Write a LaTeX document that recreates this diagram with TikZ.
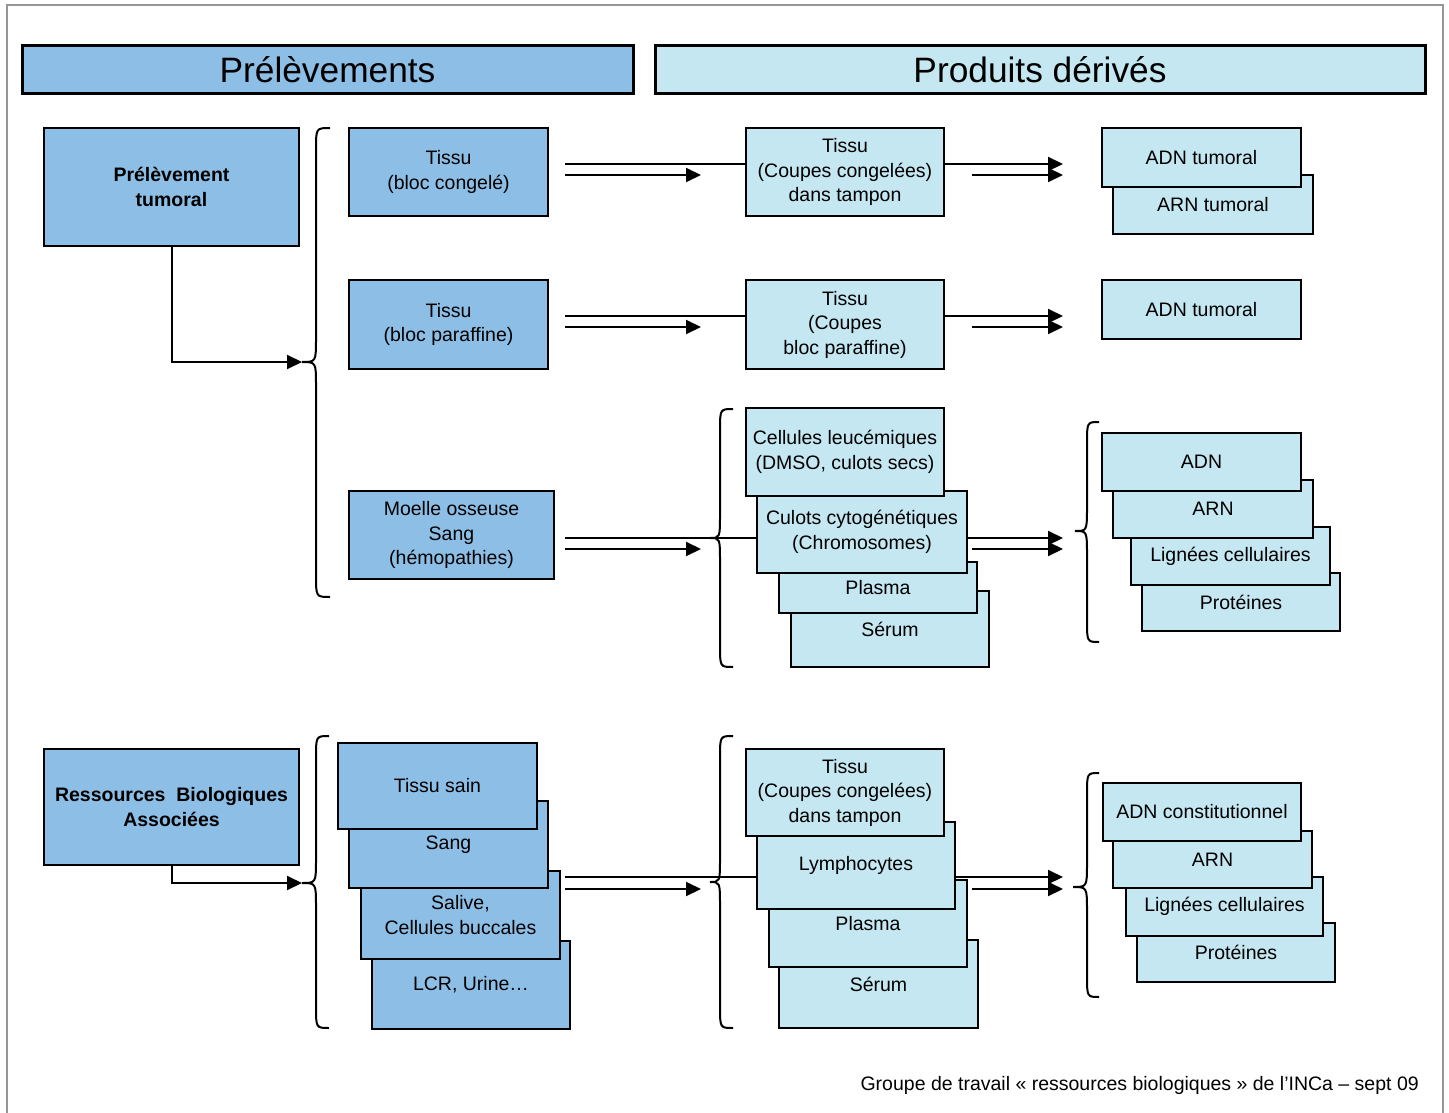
\documentclass[tikz,border=0pt]{standalone}
\usepackage{fontspec}
\setmainfont{Liberation Sans}
\usetikzlibrary{arrows.meta}
\definecolor{dblue}{RGB}{141,191,230}
\definecolor{lblue}{RGB}{196,231,241}
\definecolor{framegray}{RGB}{150,150,150}
\newcommand\bracepath[6]{% xmid xend xtip ytop ytip ybot
  \draw[brace] (#2,#4) .. controls (#1,#4) .. (#1,{#4+22}) -- (#1,{#5-24})
    .. controls (#1,#5) .. (#3,#5) .. controls (#1,#5) .. (#1,{#5+24})
    -- (#1,{#6-22}) .. controls (#1,#6) .. (#2,#6);}
\begin{document}
\begin{tikzpicture}[x=1pt,y=-1pt,
  base/.style={draw=black, line width=2.5pt, inner sep=0pt, align=center,
    font=\fontsize{19.5}{24.5}\selectfont},
  dbox/.style={base, fill=dblue},
  lbox/.style={base, fill=lblue},
  hdr/.style={draw=black, line width=3pt, inner sep=0pt,
    font=\fontsize{35.3}{40}\selectfont},
  conn/.style={line width=2pt},
  arr/.style={conn, -{Triangle[length=15pt,width=14pt]}},
  brace/.style={line width=2pt},
]
\useasboundingbox (0,0) rectangle (1449,1113);
\draw[framegray, line width=2pt] (7,1113) -- (7,5) -- (1443,5) -- (1443,1113);

% headers
\node[hdr, fill=dblue, minimum width=611pt, minimum height=48pt] (h1) at (327.5,70) {Prélèvements};
\node[hdr, fill=lblue, minimum width=770pt, minimum height=48pt] (h2) at (1040,70) {Produits dérivés};

% left boxes
\node[dbox, minimum width=255pt, minimum height=118pt, font=\fontsize{19.5}{24.5}\selectfont\bfseries] (PT) at (171.5,187) {Prélèvement\\tumoral};
\node[dbox, minimum width=255pt, minimum height=116pt, font=\fontsize{19.5}{24.5}\selectfont\bfseries] (RBA) at (171.5,807) {Ressources\ \ Biologiques\\Associées};

% column 2
\node[dbox, minimum width=199pt, minimum height=88pt] (T1) at (448.5,172) {Tissu\\(bloc congelé)};
\node[dbox, minimum width=199pt, minimum height=89pt] (T2) at (448.5,324.5) {Tissu\\(bloc paraffine)};
\node[dbox, minimum width=205pt, minimum height=88pt] (T3) at (451.5,535) {Moelle osseuse\\Sang\\(hémopathies)};

% column 3
\node[lbox, minimum width=198pt, minimum height=88pt] (C1) at (845,172) {Tissu\\(Coupes congelées)\\dans tampon};
\node[lbox, minimum width=198pt, minimum height=89pt] (C2) at (845,324.5) {Tissu\\(Coupes\\bloc paraffine)};
\node[lbox, minimum width=198pt, minimum height=76pt] (C3d) at (890,629) {Sérum};
\node[lbox, minimum width=198pt, minimum height=51pt] (C3c) at (878,587.5) {Plasma};
\node[lbox, minimum width=210pt, minimum height=82pt] (C3b) at (862,532) {Culots cytogénétiques\\(Chromosomes)};
\node[lbox, minimum width=198pt, minimum height=88pt] (C3a) at (845,452) {Cellules leucémiques\\(DMSO, culots secs)};

% column 4
\node[lbox, minimum width=200pt, minimum height=59pt] (D1b) at (1213,204.5) {ARN tumoral};
\node[lbox, minimum width=199pt, minimum height=59pt] (D1a) at (1201.5,157.5) {ADN tumoral};
\node[lbox, minimum width=199pt, minimum height=59pt] (D2) at (1201.5,309.5) {ADN tumoral};
\node[lbox, minimum width=198pt, minimum height=58pt] (D3d) at (1241,602) {Protéines};
\node[lbox, minimum width=199pt, minimum height=58pt] (D3c) at (1230.5,556) {Lignées cellulaires};
\node[lbox, minimum width=200pt, minimum height=58pt] (D3b) at (1213,509) {ARN};
\node[lbox, minimum width=199pt, minimum height=58pt] (D3a) at (1201.5,462) {ADN};

% lower column 2
\node[dbox, minimum width=198pt, minimum height=88pt] (L4) at (471,985) {LCR, Urine…};
\node[dbox, minimum width=199pt, minimum height=88pt] (L3) at (460.5,915) {Salive,\\Cellules buccales};
\node[dbox, minimum width=199pt, minimum height=87pt] (L2) at (448.5,844.5) {Sang};
\node[dbox, minimum width=199pt, minimum height=86pt] (L1) at (437.5,786) {Tissu sain};

% lower column 3
\node[lbox, minimum width=199pt, minimum height=88pt] (M4) at (878.5,984) {Sérum};
\node[lbox, minimum width=198pt, minimum height=87pt] (M3) at (868,923.5) {Plasma};
\node[lbox, minimum width=198pt, minimum height=87pt] (M2) at (856,865.5) {Lymphocytes};
\node[lbox, minimum width=198pt, minimum height=87pt] (M1) at (845,792.5) {Tissu\\(Coupes congelées)\\dans tampon};

% lower column 4
\node[lbox, minimum width=198pt, minimum height=59pt] (N4) at (1236,952.5) {Protéines};
\node[lbox, minimum width=197pt, minimum height=59pt] (N3) at (1224.5,906.5) {Lignées cellulaires};
\node[lbox, minimum width=199pt, minimum height=57pt] (N2) at (1212.5,859.5) {ARN};
\node[lbox, minimum width=198pt, minimum height=58pt] (N1) at (1202,812) {ADN constitutionnel};

% braces
\coordinate (b1) at (302,362);
\coordinate (b4) at (302,883);
\bracepath{316}{330}{302}{128}{362}{597}
\bracepath{720}{733}{710}{409}{538}{667}
\bracepath{1087}{1099}{1075}{422}{531}{642}
\bracepath{316}{329}{302}{736}{883}{1028}
\bracepath{720}{733}{710}{736}{882}{1028}
\bracepath{1087}{1099}{1073}{773}{887}{997}

% elbow arrows
\draw[arr] (PT.south) |- (b1);
\draw[arr] (RBA.south) |- (b4);

% double arrows
\foreach \yu/\yl/\n in {164/175/C1, 316/327/C2, 538/549/C3b, 877/889/M2} {
  \coordinate (lu) at (565,\yu);
  \coordinate (ll) at (565,\yl);
  \coordinate (le) at (701,\yl);
  \draw[conn] (lu) -- (lu -| \n.west);
  \draw[arr] (ll) -- (le);
  \coordinate (ru) at (1063,\yu);
  \coordinate (rl) at (972,\yl);
  \coordinate (re) at (1063,\yl);
  \draw[arr] (ru -| \n.east) -- (ru);
  \draw[arr] (rl) -- (re);
}

% footer
\node[anchor=east, inner sep=0pt, font=\fontsize{19.5}{24}\selectfont] (foot) at (1419,1085) {Groupe de travail « ressources biologiques » de l’INCa – sept 09};
\end{tikzpicture}
\end{document}
